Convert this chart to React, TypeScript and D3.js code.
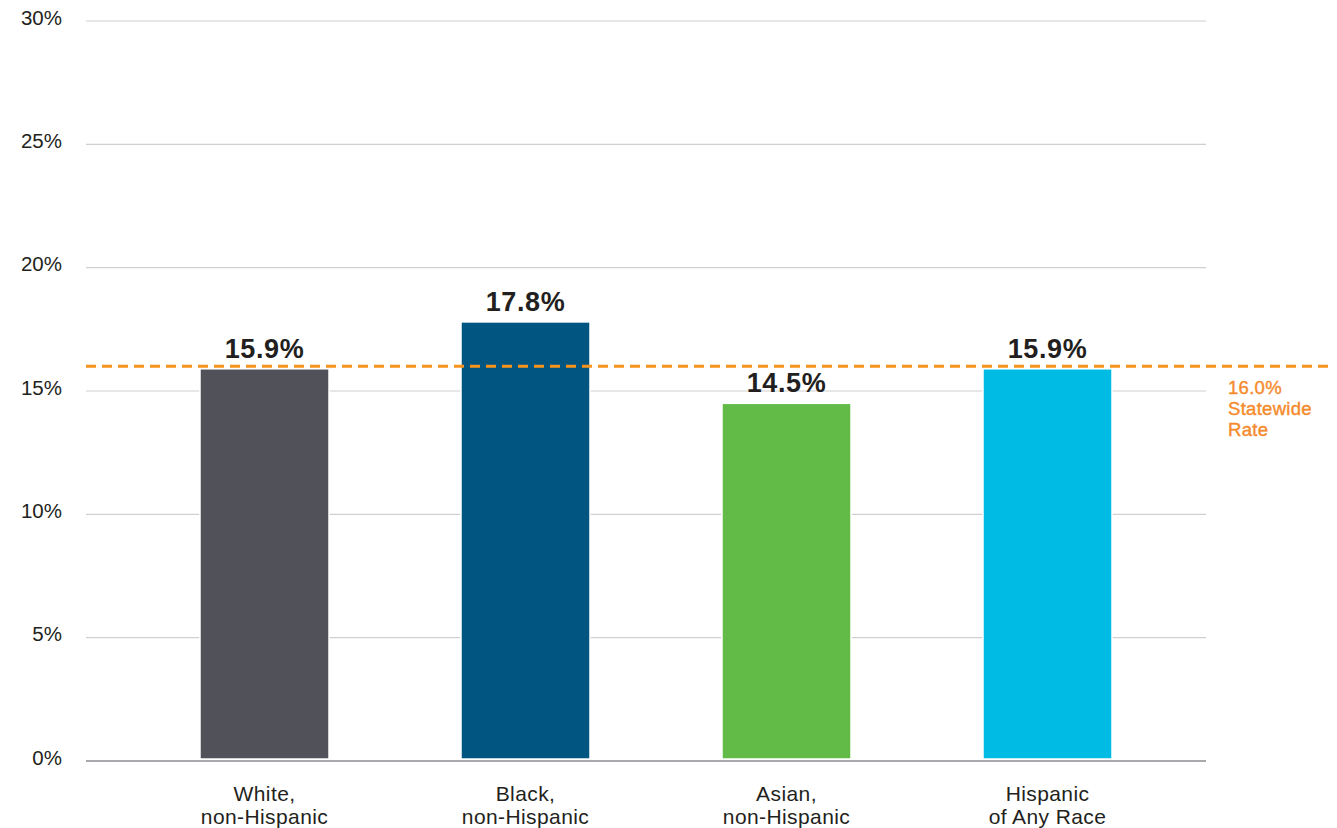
import * as React from "react";
import * as d3 from "d3";

const categories = ["White,\nnon-Hispanic", "Black,\nnon-Hispanic", "Asian,\nnon-Hispanic", "Hispanic\nof Any Race"];
const values = [15.9, 17.8, 14.5, 15.9];
const barColors = ["#515159", "#005581", "#62bb46", "#00bce4"];
const yTicks = [0, 5, 10, 15, 20, 25, 30];
const statewideRate = 16.0;
const statewideLabel = ["16.0%", "Statewide", "Rate"];

const W = 1337;
const H = 828;
const FONT = '"Liberation Sans", Arial, Helvetica, sans-serif';

export default function App() {
  const svgRef = React.useRef<SVGSVGElement>(null);

  React.useEffect(() => {
    const svgElement = svgRef.current;
    if (!svgElement) return;
    while (svgElement.firstChild) svgElement.removeChild(svgElement.firstChild);
    const svg = d3.select(svgElement);

    const plotLeft = 86;
    const plotRight = 1206;

    const y = d3.scaleLinear().domain([0, 30]).range([761, 21]);
    const x = d3.scaleBand<string>().domain(categories).range([134, 1178]).padding(0);
    const barW = 129;

    // gridlines
    svg.append("g")
      .selectAll("line")
      .data(yTicks.filter(t => t > 0))
      .enter()
      .append("line")
      .attr("x1", plotLeft)
      .attr("x2", plotRight)
      .attr("y1", d => y(d))
      .attr("y2", d => y(d))
      .attr("stroke", "#d0d0d0")
      .attr("stroke-width", 1.2);

    // y labels
    svg.append("g")
      .selectAll("text")
      .data(yTicks)
      .enter()
      .append("text")
      .attr("x", 62)
      .attr("y", d => y(d) + 3.5)
      .attr("text-anchor", "end")
      .attr("font-family", FONT)
      .attr("font-size", 20.5)
      .attr("fill", "#231f20")
      .text(d => `${d}%`);

    // baseline
    svg.append("line")
      .attr("x1", plotLeft)
      .attr("x2", plotRight)
      .attr("y1", y(0))
      .attr("y2", y(0))
      .attr("stroke", "#a7a9ac")
      .attr("stroke-width", 2);

    // bars
    svg.append("g")
      .selectAll("rect")
      .data(values)
      .enter()
      .append("rect")
      .attr("x", (_d, i) => x(categories[i])! + x.bandwidth() / 2 - barW / 2)
      .attr("y", d => y(d))
      .attr("width", barW)
      .attr("height", d => y(0) - 2 - y(d))
      .attr("fill", (_d, i) => barColors[i])
      .attr("stroke", "#ffffff")
      .attr("stroke-width", 1.5);

    // value labels
    svg.append("g")
      .selectAll("text")
      .data(values)
      .enter()
      .append("text")
      .attr("x", (_d, i) => x(categories[i])! + x.bandwidth() / 2)
      .attr("y", d => y(d) - 11)
      .attr("text-anchor", "middle")
      .attr("font-family", FONT)
      .attr("font-weight", "bold")
      .attr("font-size", 27)
      .attr("letter-spacing", 0.6)
      .attr("fill", "#231f20")
      .text(d => `${d.toFixed(1)}%`);

    // category labels
    const cat = svg.append("g")
      .selectAll("text")
      .data(categories)
      .enter()
      .append("text")
      .attr("x", d => x(d)! + x.bandwidth() / 2)
      .attr("y", 801)
      .attr("text-anchor", "middle")
      .attr("font-family", FONT)
      .attr("font-size", 21)
      .attr("letter-spacing", 0.4)
      .attr("fill", "#231f20");
    cat.selectAll("tspan")
      .data(d => d.split("\n"))
      .enter()
      .append("tspan")
      .attr("x", function () {
        return (this as SVGTSpanElement).parentElement!.getAttribute("x");
      })
      .attr("dy", (_d, i) => (i === 0 ? 0 : 23))
      .text(d => d);

    // statewide dashed line
    svg.append("line")
      .attr("x1", plotLeft)
      .attr("x2", 1330)
      .attr("y1", y(statewideRate))
      .attr("y2", y(statewideRate))
      .attr("stroke", "#f7941d")
      .attr("stroke-width", 3)
      .attr("stroke-dasharray", "10,6");

    svg.append("g")
      .selectAll("text")
      .data(statewideLabel)
      .enter()
      .append("text")
      .attr("x", 1228)
      .attr("y", (_d, i) => y(statewideRate) + 28 + i * 21)
      .attr("font-family", FONT)
      .attr("font-size", 18.5)
      .attr("letter-spacing", 0.3)
      .attr("stroke", "#f58a2c")
      .attr("stroke-width", 0.4)
      .attr("fill", "#f58a2c")
      .text(d => d);
  }, []);

  return (
    <svg
      ref={svgRef}
      width={W}
      height={H}
      style={{ position: "absolute", left: 0, top: 0, background: "#fff" }}
    />
  );
}
